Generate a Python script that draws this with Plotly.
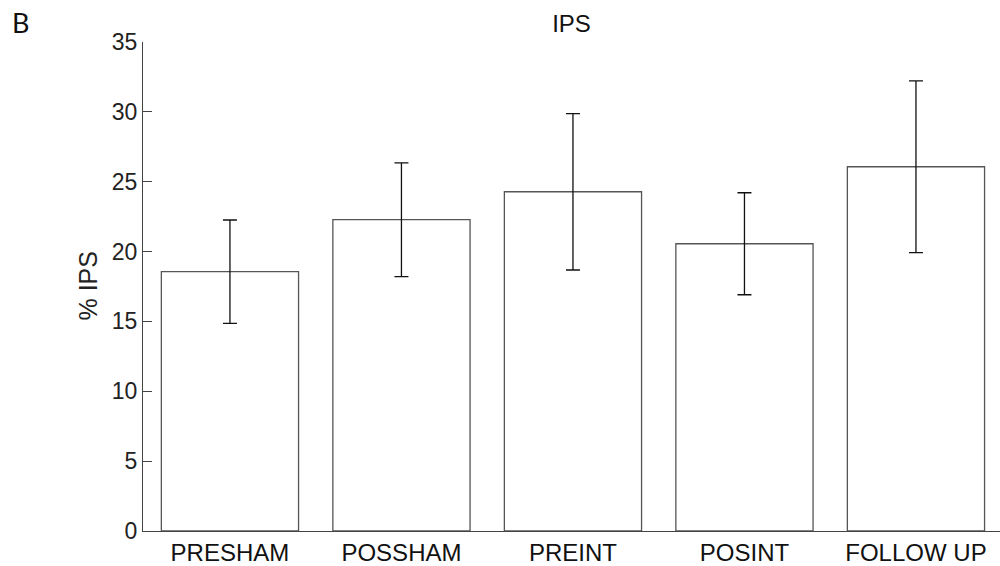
import plotly.graph_objects as go

categories = ["PRESHAM", "POSSHAM", "PREINT", "POSINT", "FOLLOW UP"]
values = [18.56, 22.28, 24.28, 20.56, 26.07]
errors = [3.7, 4.07, 5.6, 3.65, 6.15]
y_ticks = [0, 5, 10, 15, 20, 25, 30, 35]

FONT = "Liberation Sans, Arial, Helvetica, sans-serif"

fig = go.Figure()
fig.add_trace(go.Bar(
    x=list(range(len(categories))),
    y=values,
    width=0.8,
    marker=dict(color="white", line=dict(color="#555555", width=1.3)),
    error_y=dict(type="data", array=errors, visible=True, color="#111111",
                 thickness=1.3, width=7),
    showlegend=False,
))

fig.update_layout(
    width=1000, height=566,
    margin=dict(l=143, r=0, t=42, b=31),
    plot_bgcolor="white", paper_bgcolor="white",
    font=dict(family=FONT, size=23, color="#222222"),
    title=dict(text="IPS", x=0.5, xref="paper", xanchor="center",
               y=1 - 24 / 566, yanchor="middle",
               font=dict(family=FONT, size=24, color="#111111")),
    xaxis=dict(
        range=[-0.507, 4.49],
        tickmode="array",
        tickvals=list(range(len(categories))),
        ticktext=categories,
        ticks="",
        showline=True, linecolor="#444444", linewidth=1.3,
        showgrid=False, zeroline=False,
        tickfont=dict(family=FONT, size=24, color="#111111"),
        ticklabelstandoff=0,
    ),
    yaxis=dict(
        range=[0, 35],
        tickmode="array",
        tickvals=y_ticks,
        ticks="inside", ticklen=9, tickwidth=1.3, tickcolor="#444444",
        showline=True, linecolor="#444444", linewidth=1.3,
        showgrid=False, zeroline=False,
        tickfont=dict(family=FONT, size=23, color="#222222"),
    ),
    annotations=[
        dict(text="% IPS", textangle=-90, xref="paper", yref="paper",
             x=(87 - 143) / 857, y=0.5, xanchor="center", yanchor="middle",
             showarrow=False, font=dict(family=FONT, size=25, color="#222222")),
        dict(text="B", xref="paper", yref="paper",
             x=(20 - 143) / 857, y=1 + (42 - 22) / 493, xanchor="center",
             yanchor="middle", showarrow=False,
             font=dict(family="Lato, Open Sans, sans-serif", size=27, color="#111111")),
    ],
)

fig.write_html("out.html")
